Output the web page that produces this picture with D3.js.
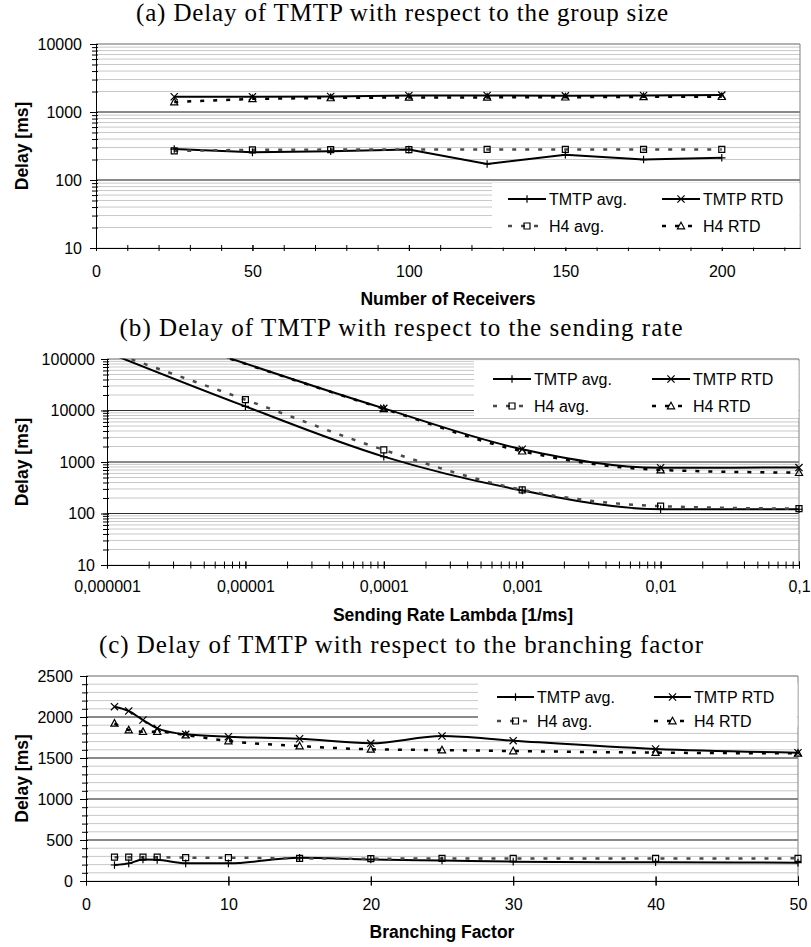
<!DOCTYPE html>
<html><head><meta charset="utf-8">
<script src="https://cdn.jsdelivr.net/npm/d3@7"></script>
<style>body{margin:0;background:#fff}</style>
</head><body><svg id="chart" width="811" height="947"></svg>
<script>
// ---------------- data ----------------
const seriesNames = ["TMTP avg.", "TMTP RTD", "H4 avg.", "H4 RTD"];

// (a) group size
const receivers   = [25, 50, 75, 100, 125, 150, 175, 200];
const recvTmtpAvg = [285, 255, 265, 280, 172, 236, 200, 212];
const recvTmtpRtd = [1675, 1680, 1690, 1750, 1750, 1730, 1750, 1775];
const recvH4Avg   = [268, 278, 280, 280, 282, 282, 282, 282];
const recvH4Rtd   = [1400, 1560, 1610, 1640, 1640, 1650, 1670, 1680];
const recvXTicks  = [0, 50, 100, 150, 200];
const recvYTicks  = [10, 100, 1000, 10000];

// (b) sending rate
const rates       = [1e-6, 1e-5, 1e-4, 1e-3, 1e-2, 1e-1];
const rateTmtpAvg = [135000, 12000, 1270, 280, 121, 121];
const rateTmtpRtd = [670000, null, 11000, 1770, 774, 780];
const rateH4Avg   = [145000, 16200, 1715, 288, 139, 124];
const rateH4Rtd   = [650000, null, 10800, 1620, 700, 620];
const rateXLabels = ["0,000001", "0,00001", "0,0001", "0,001", "0,01", "0,1"];
const rateYTicks  = [10, 100, 1000, 10000, 100000];

// (c) branching factor
const branching   = [2, 3, 4, 5, 7, 10, 15, 20, 25, 30, 40, 50];
const brTmtpAvg   = [195, 215, 262, 258, 215, 215, 283, 262, 250, 236, 228, 224];
const brTmtpRtd   = [2126, 2073, 1963, 1862, 1789, 1760, 1735, 1679, 1768, 1711, 1610, 1565];
const brH4Avg     = [290, 290, 290, 290, 285, 285, 275, 272, 275, 275, 275, 276];
const brH4Rtd     = [1923, 1841, 1821, 1821, 1780, 1707, 1646, 1606, 1597, 1585, 1565, 1557];
const brXTicks    = [0, 10, 20, 30, 40, 50];
const brYTicks    = [0, 500, 1000, 1500, 2000, 2500];

const titles = [
  "(a) Delay of TMTP with respect to the group size",
  "(b) Delay of TMTP with respect to the sending rate",
  "(c) Delay of TMTP with respect to the branching factor"
];
const xTitles = ["Number of Receivers", "Sending Rate Lambda [1/ms]", "Branching Factor"];
const yTitle = "Delay [ms]";

// ---------------- styles ----------------
const styles = [
  {stroke: "#000", width: 2, dash: null, marker: "plus"},
  {stroke: "#000", width: 2, dash: null, marker: "cross"},
  {stroke: "#4a4a4a", width: 2.5, dash: "4,9", marker: "square"},
  {stroke: "#000", width: 2.5, dash: "4,9", marker: "tri"}
];

const svg = d3.select("#chart");
const SANS = "'Liberation Sans', Arial, sans-serif";

function drawMarker(g, type, cx, cy) {
  const p = g.append("path").attr("fill", "none").attr("stroke", "#000").attr("stroke-width", 1.2);
  if (type === "plus") p.attr("d", `M${cx-3.7},${cy}H${cx+3.7}M${cx},${cy-3.8}V${cy+3.8}`);
  else if (type === "cross") p.attr("d", `M${cx-3.6},${cy-3.6}L${cx+3.6},${cy+3.6}M${cx-3.6},${cy+3.6}L${cx+3.6},${cy-3.6}`);
  else if (type === "square") p.attr("d", `M${cx-3},${cy-3}h6v6h-6Z`);
  else p.attr("d", `M${cx},${cy-3.8}L${cx+3.6},${cy+2.8}L${cx-3.6},${cy+2.8}Z`);
}

let clipId = 0;
function panel(cfg) {
  const {x, y} = cfg;
  const [L, R] = x.range();
  const [B, T] = y.range();
  const g = svg.append("g");

  // title
  g.append("text").attr("x", cfg.titleX).attr("y", cfg.titleY)
    .attr("text-anchor", "middle").attr("font-family", "'Liberation Serif', 'Times New Roman', serif")
    .attr("font-size", 25).attr("textLength", cfg.titleLen).attr("lengthAdjust", "spacing")
    .text(cfg.title);

  // gridlines
  cfg.minorY.forEach(v => g.append("line").attr("x1", L).attr("x2", R)
    .attr("y1", y(v)).attr("y2", y(v)).attr("stroke", "#c8c8c8").attr("stroke-width", 1));
  cfg.majorY.filter(v => v !== y.domain()[0]).forEach(v => g.append("line").attr("x1", L).attr("x2", R)
    .attr("y1", y(v)).attr("y2", y(v)).attr("stroke", v === y.domain()[1] ? "#808080" : "#303030").attr("stroke-width", 1));
  // right frame
  g.append("line").attr("x1", R).attr("x2", R).attr("y1", T).attr("y2", B).attr("stroke", "#808080");

  // series
  const id = "clip" + (clipId++);
  svg.append("clipPath").attr("id", id).append("rect")
    .attr("x", L).attr("y", T - 0.5).attr("width", R - L + 6).attr("height", B - T + 1);
  const sg = g.append("g").attr("clip-path", `url(#${id})`);
  cfg.series.forEach((vals, i) => {
    const st = styles[i];
    const pts = cfg.xs.map((xv, j) => [xv, vals[j]]).filter(d => d[1] != null);
    const line = d3.line().x(d => x(d[0])).y(d => y(d[1])).curve(cfg.curve);
    sg.append("path").attr("d", line(pts)).attr("fill", "none")
      .attr("stroke", st.stroke).attr("stroke-width", st.width)
      .attr("stroke-dasharray", st.dash);
  });
  cfg.series.forEach((vals, i) => {
    cfg.xs.forEach((xv, j) => {
      if (vals[j] == null) return;
      const v = vals[j];
      if (v > y.domain()[1] || v < y.domain()[0]) return;
      drawMarker(sg, styles[i].marker, x(xv), y(v));
    });
  });

  // x axis
  const xa = g.append("g").attr("transform", `translate(0,${B})`);
  xa.call(d3.axisBottom(x).tickValues(cfg.xMinor).tickFormat("").tickSizeOuter(0));
  xa.selectAll(".tick line").attr("y1", -cfg.xTick).attr("y2", cfg.xTick).attr("stroke", "#000");
  const xa2 = g.append("g").attr("transform", `translate(0,${B})`);
  xa2.call(d3.axisBottom(x).tickValues(cfg.xTicks).tickFormat((d, i) => cfg.xLabels[i]).tickSizeOuter(0));
  xa2.selectAll(".tick line").attr("y1", -cfg.xTick).attr("y2", cfg.xTick).attr("stroke", "#000");
  xa2.selectAll(".tick text").attr("y", cfg.xLabOff).attr("dy", null)
    .attr("font-family", SANS).attr("font-size", 16).attr("fill", "#000");
  g.selectAll(".domain").attr("stroke", "#000");

  // y axis
  const ya = g.append("g").attr("transform", `translate(${L},0)`);
  ya.call(d3.axisLeft(y).tickValues(cfg.minorY).tickFormat("").tickSizeOuter(0));
  ya.selectAll(".tick line").attr("x1", -4).attr("x2", 2).attr("stroke", "#000");
  const ya2 = g.append("g").attr("transform", `translate(${L},0)`);
  ya2.call(d3.axisLeft(y).tickValues(cfg.yTicks).tickFormat(d => String(d)).tickSizeOuter(0));
  ya2.selectAll(".tick line").attr("x1", -6).attr("x2", 2).attr("stroke", "#000");
  ya2.selectAll(".tick text").attr("x", -cfg.yLabOff).attr("dy", "0.34em")
    .attr("font-family", SANS).attr("font-size", 16).attr("fill", "#000");
  ya.select(".domain").attr("stroke", "#000");
  ya2.select(".domain").attr("stroke", "#000");

  // axis titles
  g.append("text").attr("x", (L + R) / 2).attr("y", cfg.xTitleY).attr("text-anchor", "middle")
    .attr("font-family", SANS).attr("font-weight", "bold").attr("font-size", 17.5).text(cfg.xTitle);
  g.append("text").attr("transform", `translate(28,${(T + B) / 2}) rotate(-90)`).attr("text-anchor", "middle")
    .attr("font-family", SANS).attr("font-weight", "bold").attr("font-size", 17.5).text(yTitle);

  // legend
  const lg = cfg.legend;
  g.append("rect").attr("x", lg.x0).attr("y", lg.y0).attr("width", R - 0.5 - lg.x0).attr("height", lg.y1 - lg.y0).attr("fill", "#fff");
  seriesNames.forEach((name, i) => {
    const col = i % 2, row = Math.floor(i / 2);
    const sx = lg.cols[col], sy = lg.rows[row];
    const st = styles[i];
    g.append("line").attr("x1", sx).attr("x2", sx + lg.len).attr("y1", sy).attr("y2", sy)
      .attr("stroke", st.stroke).attr("stroke-width", st.width).attr("stroke-dasharray", st.dash);
    drawMarker(g, st.marker, sx + lg.len / 2, sy);
    g.append("text").attr("x", sx + lg.len + 3).attr("y", sy).attr("dy", "0.36em")
      .attr("font-family", SANS).attr("font-size", 16).text(name);
  });
}

const logMinor = (lo, hi) => {
  const out = [];
  for (let p = lo; p < hi; p *= 10) for (let k = 1; k <= 9; k++) out.push(p * k);
  out.push(hi);
  return out;
};

// (a)
panel({
  title: titles[0], titleX: 402, titleY: 21, titleLen: 532,
  x: d3.scaleLinear().domain([0, 225]).range([96, 800]),
  y: d3.scaleLog().domain([10, 10000]).range([248, 44]),
  xs: receivers, series: [recvTmtpAvg, recvTmtpRtd, recvH4Avg, recvH4Rtd],
  curve: d3.curveLinear,
  minorY: logMinor(10, 10000), majorY: recvYTicks, yTicks: recvYTicks,
  xMinor: d3.range(10, 226, 10), xTicks: recvXTicks, xLabels: recvXTicks.map(String),
  xTick: 3, xLabOff: 29, yLabOff: 14, xTitle: xTitles[0], xTitleY: 305,
  legend: {x0: 492, y0: 183, y1: 247.5, cols: [508, 662], rows: [199, 226], len: 38}
});

// (b)
panel({
  title: titles[1], titleX: 401, titleY: 336, titleLen: 563,
  x: d3.scaleLog().domain([1e-6, 0.1]).range([107, 799]),
  y: d3.scaleLog().domain([10, 100000]).range([565, 359]),
  xs: rates, series: [rateTmtpAvg, rateTmtpRtd, rateH4Avg, rateH4Rtd],
  curve: d3.curveMonotoneX,
  minorY: logMinor(10, 100000), majorY: rateYTicks, yTicks: rateYTicks,
  xMinor: logMinor(1e-6, 0.1), xTicks: rates, xLabels: rateXLabels,
  xTick: 3.5, xLabOff: 27, yLabOff: 12, xTitle: xTitles[1], xTitleY: 621,
  legend: {x0: 474, y0: 361, y1: 418, cols: [493, 652], rows: [379, 406], len: 38}
});

// (c)
panel({
  title: titles[2], titleX: 401, titleY: 653, titleLen: 604,
  x: d3.scaleLinear().domain([0, 50]).range([86, 798]),
  y: d3.scaleLinear().domain([0, 2500]).range([881, 676]),
  xs: branching, series: [brTmtpAvg, brTmtpRtd, brH4Avg, brH4Rtd],
  curve: d3.curveMonotoneX,
  minorY: d3.range(0, 2501, 100), majorY: brYTicks, yTicks: brYTicks,
  xMinor: brXTicks, xTicks: brXTicks, xLabels: brXTicks.map(String),
  xTick: 4.5, xLabOff: 29, yLabOff: 13, xTitle: xTitles[2], xTitleY: 938,
  legend: {x0: 478, y0: 683, y1: 727, cols: [497, 654], rows: [697, 721], len: 37}
});
</script>
</body></html>
